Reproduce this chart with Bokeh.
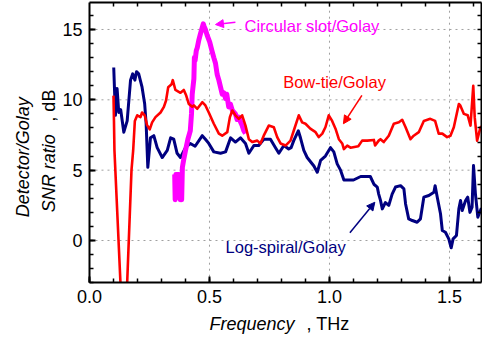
import math
from bokeh.plotting import figure
from bokeh.models import (Label, Arrow, NormalHead, LinearAxis, SingleIntervalTicker, FixedTicker,
                          Range1d, PrintfTickFormatter)
from bokeh.embed import file_html
from bokeh.resources import INLINE

FONT = "Liberation Sans"

# ---------------- data ----------------
nan = float("nan")
bowtie_f = [0.100, 0.102, 0.104, 0.129, nan, 0.157, 0.175, 0.182, 0.189, 0.199, 0.2125,
            0.219, 0.230, 0.240, 0.251, 0.261, 0.275, 0.296, 0.310, 0.319, 0.328, 0.342, 0.347,
            0.358, 0.379, 0.393, 0.403, 0.414, 0.428, 0.435, 0.449, 0.470, 0.483, 0.497, 0.518,
            0.539, 0.553, 0.574, 0.585, 0.595, 0.608, 0.622, 0.636, 0.650, 0.664, 0.678, 0.699,
            0.7125, 0.726, 0.747, 0.768, 0.782, 0.796, 0.817, 0.8375, 0.851, 0.872, 0.886, 0.900,
            0.920, 0.942, 0.955, 0.970, 0.983, 0.997, 1.011, 1.025, 1.039, 1.053, 1.060, 1.074,
            1.0875, 1.120, 1.136, 1.157, 1.185, 1.190, 1.205, 1.2125, 1.226, 1.247, 1.268, 1.289,
            1.303, 1.317, 1.3375, 1.351, 1.372, 1.393, 1.420, 1.440, 1.455, 1.470, 1.490, 1.504,
            1.518, 1.539, 1.545, 1.560, 1.576, 1.5875, 1.599, 1.605, 1.615, 1.629, 1.633]
bowtie_snr = [10.3, 8.5, 6.4, -3.0, nan, -3.0, 5.0, 6.4, 8.5, 8.9, 8.77,
              9.1, 8.9, 8.2, 7.9, 8.4, 8.77, 9.1, 9.5, 9.95, 10.9, 11.1, 11.4,
              10.7, 10.5, 10.7, 10.3, 9.7, 9.5, 9.6, 9.36, 9.83, 9.6, 9.1, 8.3,
              7.6, 7.45, 7.7, 8.77, 9.24, 8.9, 8.65, 8.9, 8.17, 7.2, 7.0, 7.1,
              6.9, 7.45, 8.17, 8.05, 7.35, 6.9, 6.75, 7.1, 7.8, 8.9, 8.4, 8.3,
              7.95, 7.7, 7.35, 7.6, 8.05, 8.9, 8.5, 7.95, 7.2, 6.9, 6.5, 6.75,
              6.6, 6.7, 7.1, 7.1, 7.15, 6.75, 7.1, 7.2, 7.0, 7.45, 8.3, 8.4,
              8.58, 8.05, 7.2, 7.45, 7.7, 8.5, 8.65, 8.5, 7.6, 7.6, 7.35, 7.45,
              8.05, 9.7, 9.6, 9.0, 8.9, 8.17, 11.0, 8.77, 7.1, 8.05, 8.1]

logspiral_f = [0.101, 0.108, 0.115, 0.122, 0.130, 0.143, 0.157, 0.171, 0.180, 0.189, 0.196, 0.205,
               0.219, 0.230, 0.236, 0.243, 0.254, 0.268, 0.282, 0.303, 0.324, 0.338, 0.351, 0.365,
               0.379, 0.400, 0.420, 0.440, 0.470, 0.483, 0.497, 0.518, 0.546, 0.567, 0.588, 0.608,
               0.629, 0.650, 0.664, 0.685, 0.705, 0.726, 0.754, 0.775, 0.789, 0.810, 0.830, 0.840,
               0.851, 0.870, 0.879, 0.893, 0.907, 0.935, 0.949, 0.963, 0.983, 1.004, 1.018, 1.032,
               1.046, 1.060, 1.074, 1.100, 1.130, 1.170, 1.185, 1.199, 1.205, 1.2125, 1.220, 1.233,
               1.247, 1.261, 1.275, 1.296, 1.310, 1.317, 1.330, 1.345, 1.365, 1.379, 1.393, 1.414,
               1.435, 1.440, 1.449, 1.4625, 1.470, 1.483, 1.497, 1.507, 1.515, 1.529, 1.539, 1.546,
               1.553, 1.567, 1.576, 1.585, 1.594, 1.600, 1.608, 1.618, 1.629, 1.633]
logspiral_snr = [12.3, 8.9, 10.8, 9.1, 9.3, 7.7, 8.5, 11.4, 11.85, 11.4, 12.0, 11.85,
                 10.9, 9.7, 8.3, 5.2, 7.3, 7.45, 6.6, 5.9, 6.4, 7.3, 7.2, 6.2,
                 5.9, 6.6, 6.9, 6.7, 7.45, 7.2, 6.9, 6.3, 6.2, 6.3, 7.3, 7.0,
                 7.3, 6.9, 6.2, 6.75, 6.75, 7.2, 7.2, 6.6, 6.2, 6.75, 6.5, 6.6,
                 7.1, 7.8, 7.3, 6.4, 5.9, 5.3, 4.85, 5.7, 6.0, 6.6, 6.3, 5.45,
                 5.0, 4.3, 4.3, 4.3, 4.55, 4.55, 4.0, 3.8, 3.3, 2.85, 2.25, 2.7,
                 2.5, 3.3, 3.8, 3.9, 3.67, 2.6, 1.54, 1.42, 1.3, 1.54, 3.08, 3.2,
                 3.43, 3.9, 3.08, 1.9, 0.71, 0.59, 0.12, -0.52, 0.12, 0.36, 2.25, 2.84,
                 2.13, 2.84, 3.08, 2.0, 2.37, 5.33, 3.32, 1.66, 2.13, 2.3]

slot_f = [0.355, 0.357, 0.360, 0.372, 0.378, 0.381, 0.384, 0.387, 0.392, 0.400, 0.410, 0.420,
          0.425, 0.428, 0.435, 0.437, 0.440, 0.445, 0.449, 0.455, 0.4625, 0.474, 0.478, 0.483,
          0.490, 0.501, 0.510, 0.518, 0.525, 0.532, 0.539, 0.546, 0.553, 0.560, 0.567, 0.572,
          0.580, 0.587, 0.595, 0.608, 0.615, 0.622, 0.630, 0.636, 0.643, 0.650]
slot_snr = [4.7, 2.9, 4.7, 4.7, 2.9, 4.2, 2.9, 5.2, 5.7, 6.4, 7.2, 7.8,
            9.0, 10.4, 11.5, 13.0, 12.8, 13.5, 13.7, 14.2, 14.7, 15.4, 15.2, 15.0,
            14.6, 14.1, 13.5, 13.0, 12.6, 11.8, 11.4, 10.9, 10.4, 10.5, 10.1, 10.4,
            9.5, 9.7, 9.25, 9.0, 8.6, 8.77, 8.4, 8.17, 7.8, 7.6]

# axes / ticks
x_min, x_max = 0.0, 1.633
y_min, y_max = -3.0, 16.915
x_major_ticks = [0.5, 1.0, 1.5]
y_major_ticks = [0, 5, 10, 15]
x_minor_ticks = [round(0.1 * i, 1) for i in range(1, 17)]
y_minor_ticks = list(range(-2, 17))

# visible plotting canvas (frame covers the whole picture; the axes sit at fixed locations)
view_x = (-0.3708, 1.6375)
view_y = (-6.965, 17.06)

p = figure(width=482, height=338, x_range=Range1d(*view_x), y_range=Range1d(*view_y),
           output_backend="svg", toolbar_location=None,
           x_axis_location=None, y_axis_location=None,
           min_border=0, min_border_left=0, min_border_right=0, min_border_top=0, min_border_bottom=0)
p.outline_line_color = None
p.background_fill_color = "white"
p.border_fill_color = "white"
p.grid.visible = False

# dotted grid at the major ticks, inside the axes box
p.segment(x0=x_major_ticks, y0=[y_min] * len(x_major_ticks), x1=x_major_ticks, y1=[y_max] * len(x_major_ticks),
          line_color="#a0a0a0", line_dash="2 4", line_width=1)
p.segment(x0=[x_min] * len(y_major_ticks), y0=y_major_ticks, x1=[x_max] * len(y_major_ticks), y1=y_major_ticks,
          line_color="#a0a0a0", line_dash="2 4", line_width=1)

bottom = LinearAxis(ticker=SingleIntervalTicker(interval=0.5, num_minor_ticks=5),
                    formatter=PrintfTickFormatter(format="%.1f"),
                    fixed_location=y_min, bounds=(x_min, x_max))
left = LinearAxis(ticker=SingleIntervalTicker(interval=5, num_minor_ticks=5),
                  fixed_location=x_min, bounds=(y_min, y_max))
top = LinearAxis(ticker=FixedTicker(ticks=[], minor_ticks=x_minor_ticks),
                 fixed_location=y_max, bounds=(x_min, x_max))
right = LinearAxis(ticker=FixedTicker(ticks=[], minor_ticks=y_minor_ticks),
                   fixed_location=x_max, bounds=(y_min, y_max))
p.add_layout(bottom, "below")
p.add_layout(left, "left")
p.add_layout(top, "above")
p.add_layout(right, "right")

for ax in (bottom, left, top, right):
    ax.axis_line_width = 2
    ax.axis_line_color = "black"
    ax.major_tick_in = 6
    ax.major_tick_out = 0
    ax.minor_tick_in = 4
    ax.minor_tick_out = 0
    ax.major_tick_line_width = 2
    ax.minor_tick_line_width = 1.5
    ax.major_tick_line_color = "black"
    ax.minor_tick_line_color = "black"
    ax.major_label_text_font = FONT
    ax.major_label_text_font_size = "18px"
    ax.major_label_text_color = "black"
    ax.major_label_standoff = 7

# ---------------- series ----------------
p.line(logspiral_f, logspiral_snr, line_color="#000080", line_width=3, line_join="round")
p.line(slot_f, slot_snr, line_color="#ff00ff", line_width=5, line_join="round")
p.line(bowtie_f, bowtie_snr, line_color="#ff0000", line_width=2.6, line_join="round")

# ---------------- annotations ----------------
def add_text(x, y, text, color, style="normal", size="16.5px", angle=0.0):
    p.add_layout(Label(x=x, y=y, text=text, text_color=color, text_font=FONT,
                       text_font_size=size, text_font_style=style, angle=angle,
                       text_baseline="alphabetic", text_align="left"))

add_text(0.646, 15.28, "Circular slot/Golay", "#ff00ff")
add_text(0.807, 11.30, "Bow-tie/Golay", "#ff0000")
add_text(0.567, -0.48, "Log-spiral/Golay", "#000080")

p.add_layout(Arrow(x_start=0.608, y_start=15.52, x_end=0.525, y_end=15.35,
                   line_color="#ff00ff", line_width=1.5,
                   end=NormalHead(size=8, fill_color="#ff00ff", line_color="#ff00ff")))
p.add_layout(Arrow(x_start=1.135, y_start=10.31, x_end=1.058, y_end=8.3,
                   line_color="#ff0000", line_width=1.5,
                   end=NormalHead(size=8, fill_color="#ff0000", line_color="#ff0000")))
p.add_layout(Arrow(x_start=1.085, y_start=0.55, x_end=1.189, y_end=2.72,
                   line_color="#000080", line_width=1.5,
                   end=NormalHead(size=8, fill_color="#000080", line_color="#000080")))

# axis titles (mixed italic / upright)
add_text(0.500, -5.90, "Frequency", "black", "italic", "18px")
add_text(0.904, -5.90, ", THz", "black", "normal", "18px")
add_text(-0.2750, 1.656, "Detector/Golay", "black", "italic", "18px", math.pi / 2)
add_text(-0.1695, 2.01, "SNR ratio", "black", "italic", "18px", math.pi / 2)
add_text(-0.1695, 8.45, ", dB", "black", "normal", "18px", math.pi / 2)

open("out.html", "w").write(file_html(p, INLINE))
